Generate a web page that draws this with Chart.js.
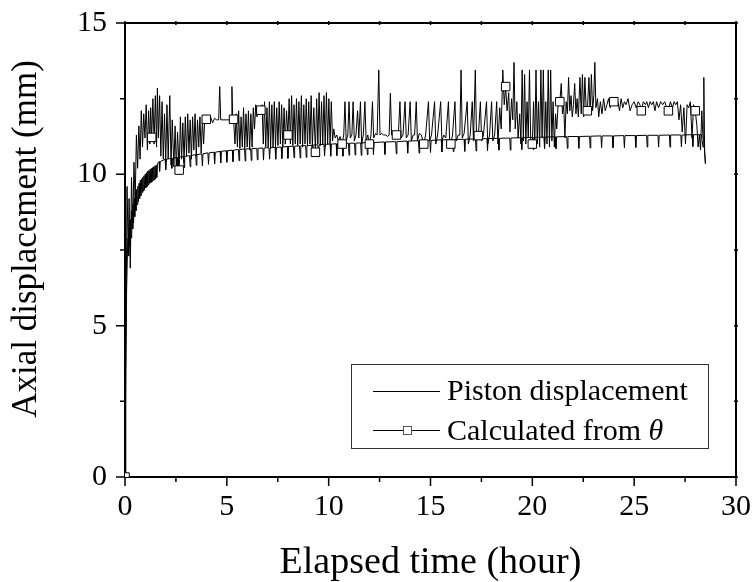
<!DOCTYPE html>
<html>
<head>
<meta charset="utf-8">
<script src="https://cdn.jsdelivr.net/npm/chart.js@4.4.0/dist/chart.umd.min.js"></script>
<style>
  html, body { margin: 0; padding: 0; background: #fff; }
  #chart { display: block; }
</style>
</head>
<body>
<canvas id="chart" width="754" height="582"></canvas>
<script>
// values (time in hours, displacement in mm)
const xMajorTicks = [0, 5, 10, 15, 20, 25, 30];
const yMajorTicks = [0, 5, 10, 15];

// piston displacement: steep rise and the dense band at the start
const pistonRise = [
  [0, 0], [0.04, 3.5], [0.08, 6.2], [0.12, 7.4], [0.15, 7.9],
  [0.18, 7.3], [0.21, 8.2], [0.24, 7.6], [0.27, 8.5], [0.30, 7.9], [0.33, 8.8], [0.36, 8.2], [0.39, 9.0],
  [0.42, 8.4], [0.45, 9.2], [0.48, 8.6], [0.51, 9.4], [0.54, 8.8], [0.57, 9.5], [0.60, 9.0], [0.63, 9.6],
  [0.66, 9.1], [0.69, 9.7], [0.72, 9.2], [0.75, 9.8], [0.78, 9.3], [0.81, 9.85], [0.84, 9.4], [0.87, 9.9],
  [0.90, 9.45], [0.93, 9.95], [0.96, 9.5], [0.99, 10.0], [1.02, 9.55], [1.05, 10.05], [1.08, 9.6], [1.11, 10.1],
  [1.14, 9.65], [1.17, 10.13], [1.20, 9.7], [1.23, 10.16], [1.26, 9.72], [1.29, 10.19], [1.32, 9.75], [1.35, 10.22],
  [1.38, 9.8], [1.41, 10.25], [1.44, 9.82], [1.47, 10.28], [1.50, 9.85], [1.53, 10.3], [1.56, 9.9], [1.59, 10.35]
];
// piston displacement: periodic drops after the first hour and a half
const dipTimes = [
  1.7, 2.0, 2.3, 2.6, 2.9, 3.2, 3.5, 3.8, 4.1, 4.4, 4.7, 5.0, 5.3, 5.6, 5.9, 6.2, 6.5, 6.8, 7.1, 7.4,
  7.7, 8.0, 8.3, 8.6, 8.9, 9.2, 9.5, 9.8, 10.1, 10.4, 10.7, 11.0, 11.3, 11.6, 11.9,
  12.2, 12.76, 13.32, 13.88, 14.44, 15.0, 15.56, 16.12, 16.68, 17.24, 17.8, 18.36, 18.92, 19.48, 20.04,
  20.6, 21.16, 21.72, 22.28, 22.84, 23.4, 23.96, 24.52, 25.08, 25.64, 26.2, 26.76, 27.32, 27.88
];
const dipTop = [
  10.42, 10.5, 10.53, 10.56, 10.59, 10.62, 10.65, 10.68, 10.71, 10.73, 10.76, 10.78, 10.8, 10.82, 10.84, 10.85, 10.86, 10.87, 10.88, 10.89,
  10.9, 10.92, 10.93, 10.94, 10.95, 10.96, 10.98, 10.99, 11.0, 11.01, 11.02, 11.03, 11.03, 11.04, 11.05,
  11.05, 11.07, 11.08, 11.1, 11.11, 11.12, 11.14, 11.15, 11.16, 11.17, 11.18, 11.19, 11.2, 11.21, 11.22,
  11.23, 11.24, 11.25, 11.25, 11.26, 11.27, 11.27, 11.28, 11.28, 11.29, 11.29, 11.3, 11.3, 11.31
];
const dipBottom = [
  10.1, 10.15, 10.2, 10.18, 10.22, 10.25, 10.3, 10.28, 10.33, 10.35, 10.38, 10.4, 10.42, 10.45, 10.44, 10.46, 10.48, 10.47, 10.5, 10.5,
  10.52, 10.53, 10.55, 10.54, 10.56, 10.58, 10.57, 10.6, 10.6, 10.62, 10.6, 10.63, 10.64, 10.63, 10.65,
  10.65, 10.66, 10.68, 10.7, 10.7, 10.72, 10.74, 10.75, 10.76, 10.77, 10.78, 10.8, 10.8, 10.82, 10.82,
  10.84, 10.85, 10.86, 10.86, 10.87, 10.88, 10.88, 10.88, 10.89, 10.9, 10.9, 10.9, 10.91, 10.92
];
const pistonTail = [[28.3, 11.31], [28.38, 10.9], [28.42, 11.2], [28.5, 10.35]];

// calculated from theta
const thetaFirstHalf = [
  [0, 0], [0.05, 4.8], [0.1, 9.6], [0.16, 7.4], [0.2, 9.2], [0.26, 6.9], [0.32, 9.9], [0.38, 8.2], [0.44, 10.4], [0.5, 9.1],
  [0.56, 11.3], [0.62, 10.2], [0.68, 11.6], [0.74, 10.5], [0.8, 12.1], [0.86, 10.9], [0.92, 12.0], [0.98, 11.2], [1.04, 12.3],
  [1.1, 10.8], [1.16, 12.1], [1.22, 11.0], [1.26, 12.2], [1.31, 11.22],
  [1.37, 12.5], [1.43, 11.0], [1.49, 12.6], [1.55, 10.9], [1.59, 12.85], [1.64, 11.2], [1.7, 12.6], [1.76, 10.6], [1.82, 12.4],
  [1.88, 10.5], [1.94, 12.0], [2.0, 10.4], [2.06, 12.3], [2.12, 10.5], [2.2, 12.6], [2.26, 10.3], [2.32, 11.8], [2.4, 10.25],
  [2.46, 11.6], [2.52, 10.2], [2.58, 11.4], [2.66, 10.14],
  [2.72, 11.9], [2.78, 10.5], [2.84, 11.7], [2.9, 10.4], [2.96, 11.9], [3.02, 10.6], [3.08, 12.0], [3.14, 10.7], [3.2, 11.8],
  [3.26, 10.5], [3.32, 11.9], [3.38, 10.8], [3.44, 12.0], [3.5, 10.6], [3.56, 11.8], [3.62, 10.9], [3.68, 11.9], [3.74, 10.7],
  [3.8, 11.8], [3.86, 11.0], [3.92, 11.9], [3.99, 11.82],
  [4.1, 11.75], [4.2, 11.9], [4.3, 11.7], [4.4, 11.85], [4.5, 11.8], [4.6, 11.8], [4.65, 12.9], [4.7, 11.8], [4.85, 11.8],
  [5.0, 11.8], [5.15, 11.8], [5.22, 11.8], [5.25, 12.9], [5.29, 11.8], [5.33, 11.82],
  [5.4, 11.0], [5.46, 12.0], [5.52, 10.9], [5.58, 12.1], [5.64, 10.85], [5.7, 11.9], [5.76, 10.9], [5.82, 12.2], [5.88, 10.85],
  [5.94, 12.0], [6.0, 10.9], [6.06, 12.1], [6.12, 10.8], [6.18, 12.0], [6.24, 10.9], [6.3, 12.2], [6.36, 11.5], [6.42, 12.3],
  [6.48, 11.9], [6.54, 12.2], [6.6, 12.0], [6.67, 12.12],
  [6.73, 12.3], [6.79, 11.0], [6.85, 12.4], [6.91, 10.9], [6.97, 12.2], [7.03, 10.9], [7.09, 12.4], [7.15, 10.85], [7.21, 12.3],
  [7.27, 10.9], [7.33, 12.4], [7.39, 10.9], [7.45, 12.2], [7.51, 10.95], [7.57, 12.4], [7.63, 11.0], [7.69, 12.3], [7.75, 10.9],
  [7.81, 12.2], [7.87, 11.0], [7.93, 12.1], [8.0, 11.3],
  [8.06, 12.5], [8.12, 11.0], [8.18, 12.6], [8.24, 10.95], [8.3, 12.3], [8.36, 11.0], [8.42, 12.5], [8.48, 10.95], [8.54, 12.4],
  [8.6, 11.0], [8.66, 12.6], [8.72, 10.9], [8.78, 12.3], [8.84, 11.0], [8.9, 12.5], [8.96, 10.95], [9.02, 12.4], [9.08, 11.0],
  [9.14, 12.6], [9.2, 10.9], [9.27, 12.2], [9.35, 10.73],
  [9.41, 12.5], [9.47, 11.0], [9.53, 12.7], [9.59, 10.95], [9.65, 12.4], [9.71, 11.0], [9.77, 12.6], [9.83, 10.9], [9.89, 12.7],
  [9.95, 11.0], [10.01, 12.5], [10.07, 11.0], [10.13, 12.4], [10.19, 11.1], [10.25, 11.5], [10.32, 11.2], [10.4, 11.3],
  [10.48, 11.1], [10.56, 11.25], [10.66, 11.0],
  [10.74, 11.3], [10.8, 12.4], [10.86, 11.1], [10.94, 11.3], [11.0, 12.4], [11.06, 11.2], [11.14, 11.3], [11.2, 12.4],
  [11.26, 11.1], [11.34, 11.3], [11.42, 12.1], [11.48, 11.2], [11.56, 12.4], [11.62, 11.0], [11.7, 11.3], [11.78, 12.4],
  [11.84, 11.1], [11.92, 11.3], [12.0, 11.0],
  [12.08, 11.3], [12.15, 12.4], [12.21, 11.2], [12.3, 11.35], [12.38, 11.3], [12.46, 13.45], [12.52, 11.3], [12.6, 11.35],
  [12.7, 11.3], [12.8, 11.3], [12.9, 11.25], [12.97, 11.3], [13.03, 12.68], [13.09, 11.3], [13.18, 11.35], [13.26, 11.3], [13.33, 11.3],
  [13.42, 11.3], [13.5, 12.4], [13.56, 11.2], [13.65, 11.3], [13.75, 12.4], [13.81, 11.2], [13.9, 11.3], [14.0, 12.4],
  [14.06, 11.1], [14.15, 11.3], [14.22, 11.3], [14.3, 12.4], [14.36, 11.1], [14.45, 11.35], [14.55, 11.3], [14.67, 11.0]
];
const thetaSecondHalf = [
  [14.76, 11.3], [14.9, 12.4], [14.96, 11.1], [15.05, 11.3], [15.2, 12.4], [15.26, 11.0], [15.35, 11.3], [15.5, 12.4],
  [15.56, 11.1], [15.65, 11.3], [15.75, 11.2], [15.88, 12.4], [15.94, 11.1], [16.0, 11.0],
  [16.08, 11.3], [16.2, 12.4], [16.26, 11.1], [16.36, 11.3], [16.44, 11.3], [16.5, 13.45], [16.56, 11.2], [16.65, 11.35],
  [16.8, 12.4], [16.86, 11.0], [16.95, 11.3], [17.05, 12.4], [17.11, 11.1], [17.2, 13.45], [17.26, 11.2], [17.35, 11.28],
  [17.45, 12.4], [17.51, 11.1], [17.6, 11.3], [17.75, 12.4], [17.81, 11.0], [17.9, 11.3], [18.0, 12.4], [18.06, 11.1],
  [18.15, 11.3], [18.25, 12.4], [18.31, 11.0], [18.4, 12.2], [18.47, 11.5], [18.55, 13.45], [18.62, 12.3], [18.69, 12.9],
  [18.76, 12.1], [18.84, 12.7], [18.9, 11.4], [18.98, 12.5], [19.04, 11.8], [19.1, 13.7], [19.16, 11.5], [19.24, 12.4],
  [19.3, 11.2], [19.38, 12.0], [19.44, 11.0], [19.5, 13.45], [19.56, 11.1], [19.62, 13.3], [19.68, 11.0], [19.74, 12.4],
  [19.8, 11.2], [19.86, 13.45], [19.92, 11.1], [20.0, 11.0],
  [20.06, 12.4], [20.12, 10.9], [20.18, 13.45], [20.24, 11.0], [20.3, 12.4], [20.36, 10.9], [20.42, 13.45], [20.48, 11.2],
  [20.54, 13.45], [20.6, 10.9], [20.66, 12.4], [20.72, 11.0], [20.78, 13.45], [20.84, 10.9], [20.9, 13.45], [20.96, 11.1],
  [21.02, 12.4], [21.08, 10.9], [21.14, 12.0], [21.2, 11.5], [21.28, 12.5], [21.35, 12.4],
  [21.42, 13.0], [21.48, 12.0], [21.54, 12.3], [21.6, 11.2], [21.66, 12.4], [21.72, 12.0], [21.78, 13.2], [21.84, 12.1],
  [21.9, 12.6], [21.96, 11.9], [22.02, 12.3], [22.08, 13.0], [22.14, 12.0], [22.2, 12.5], [22.26, 11.9], [22.34, 13.2],
  [22.4, 12.0], [22.46, 13.3], [22.52, 11.9], [22.58, 13.2], [22.64, 12.2], [22.7, 12.1],
  [22.78, 13.2], [22.84, 12.0], [22.9, 13.3], [22.96, 12.1], [23.02, 12.6], [23.07, 13.7], [23.12, 12.2], [23.2, 12.5],
  [23.26, 11.9], [23.34, 12.4], [23.42, 12.0], [23.5, 12.5], [23.58, 12.1], [23.66, 12.3], [23.74, 12.5], [23.82, 12.2],
  [23.9, 12.4], [24.0, 12.4],
  [24.1, 12.3], [24.2, 12.4], [24.28, 12.1], [24.36, 12.5], [24.44, 12.2], [24.52, 12.4], [24.6, 12.3], [24.7, 12.5],
  [24.8, 12.1], [24.9, 12.3], [25.0, 12.4], [25.1, 12.2], [25.2, 12.4], [25.28, 12.3], [25.35, 12.1],
  [25.45, 12.4], [25.55, 12.3], [25.62, 12.4], [25.7, 12.2], [25.78, 12.4], [25.86, 12.3], [25.94, 12.4], [26.02, 12.1],
  [26.1, 12.4], [26.2, 12.2], [26.3, 12.4], [26.4, 12.3], [26.5, 12.4], [26.6, 12.2], [26.68, 12.1],
  [26.78, 12.4], [26.88, 12.2], [26.96, 12.4], [27.04, 12.3], [27.12, 12.4], [27.2, 11.8], [27.28, 12.3], [27.36, 11.4],
  [27.44, 12.2], [27.52, 11.0], [27.6, 12.3], [27.68, 12.2], [27.76, 12.4], [27.84, 11.2], [27.92, 12.3], [28.0, 12.1],
  [28.08, 11.6], [28.14, 10.9], [28.2, 11.3], [28.26, 10.8], [28.32, 12.1], [28.38, 11.2], [28.42, 13.2], [28.46, 10.7], [28.5, 10.35]
];
// times where the theta curve carries a square marker
const thetaMarkerTimes = [0, 1.31, 2.66, 3.99, 5.33, 6.67, 8.0, 9.35, 10.66, 12.0, 13.33, 14.67, 16.0,
  17.35, 18.69, 20.0, 21.35, 22.7, 24.0, 25.35, 26.68, 28.0];

const FONT = '"Liberation Serif", "Times New Roman", Times, serif';

const toXY = pts => pts.map(([x, y]) => ({ x, y }));

const pistonData = toXY(pistonRise);
dipTimes.forEach((t, i) => {
    pistonData.push({ x: t - 0.03, y: dipTop[i] });
    pistonData.push({ x: t, y: dipBottom[i] });
    pistonData.push({ x: t + 0.03, y: dipTop[i] });
});
pistonData.push(...toXY(pistonTail));

const thetaData = toXY(thetaFirstHalf.concat(thetaSecondHalf));

// frame on top/right, tick marks on all sides, y title and the boxed legend
const frameAndLegend = {
    id: 'frameAndLegend',
    afterDraw(chart) {
        const { ctx, chartArea: a, scales: { x, y } } = chart;
        ctx.save();
        ctx.strokeStyle = '#000';
        ctx.lineWidth = 2;
        ctx.beginPath();
        ctx.moveTo(a.left, a.top);
        ctx.lineTo(a.right, a.top);
        ctx.lineTo(a.right, a.bottom);
        ctx.stroke();

        ctx.lineWidth = 1.5;
        x.ticks.forEach(t => {
            const px = x.getPixelForValue(t.value);
            const len = xMajorTicks.includes(t.value) ? 9 : 5;
            ctx.beginPath();
            ctx.moveTo(px, a.bottom);
            ctx.lineTo(px, a.bottom + len);
            ctx.moveTo(px, a.top - 2);
            ctx.lineTo(px, a.top + 2);
            ctx.stroke();
        });
        y.ticks.forEach(t => {
            const py = y.getPixelForValue(t.value);
            const len = yMajorTicks.includes(t.value) ? 9 : 5;
            ctx.beginPath();
            ctx.moveTo(a.left, py);
            ctx.lineTo(a.left - len, py);
            ctx.moveTo(a.right - 2, py);
            ctx.lineTo(a.right + 2, py);
            ctx.stroke();
        });

        // y axis title
        ctx.save();
        ctx.translate(27, 239);
        ctx.rotate(-Math.PI / 2);
        ctx.fillStyle = '#000';
        ctx.font = '35px ' + FONT;
        ctx.textAlign = 'center';
        ctx.textBaseline = 'middle';
        ctx.fillText('Axial displacement (mm)', 0, 0);
        ctx.restore();

        // legend
        ctx.lineWidth = 1;
        ctx.strokeStyle = '#333';
        ctx.strokeRect(351.5, 364.5, 357, 84);
        ctx.strokeStyle = '#000';
        ctx.beginPath();
        ctx.moveTo(373, 391.5);
        ctx.lineTo(440, 391.5);
        ctx.moveTo(373, 430.5);
        ctx.lineTo(440, 430.5);
        ctx.stroke();
        ctx.fillStyle = '#fff';
        ctx.fillRect(403.5, 426.5, 8, 8);
        ctx.strokeStyle = '#555';
        ctx.strokeRect(403.5, 426.5, 8, 8);

        ctx.fillStyle = '#000';
        ctx.textBaseline = 'alphabetic';
        ctx.textAlign = 'left';
        ctx.font = '30px ' + FONT;
        ctx.fillText('Piston displacement', 447, 400);
        const lead = 'Calculated from ';
        ctx.fillText(lead, 447, 440);
        const w = ctx.measureText(lead).width;
        ctx.font = 'italic 30px ' + FONT;
        ctx.fillText('\u03b8', 447 + w, 440);
        ctx.restore();
    }
};

const tickFont = { family: FONT, size: 30 };

new Chart(document.getElementById('chart'), {
    type: 'line',
    data: {
        datasets: [
            {
                label: 'Calculated from \u03b8',
                data: thetaData,
                borderColor: '#000',
                borderWidth: 1,
                pointStyle: 'rect',
                pointRadius: c => (c.raw && thetaMarkerTimes.includes(c.raw.x)) ? 6 : 0,
                pointBackgroundColor: '#fff',
                pointBorderColor: '#000',
                pointBorderWidth: 1,
                tension: 0
            },
            {
                label: 'Piston displacement',
                data: pistonData,
                borderColor: '#000',
                borderWidth: 1,
                pointRadius: 0,
                tension: 0
            }
        ]
    },
    options: {
        responsive: false,
        animation: false,
        events: [],
        layout: { padding: { top: 23, right: 18, left: 0, bottom: 0 } },
        plugins: {
            legend: { display: false },
            tooltip: { enabled: false }
        },
        scales: {
            x: {
                type: 'linear',
                min: 0,
                max: 30,
                grid: { display: false },
                border: { display: true, color: '#000', width: 2 },
                ticks: {
                    stepSize: 2.5,
                    autoSkip: false,
                    maxRotation: 0,
                    padding: 4,
                    color: '#000',
                    font: tickFont,
                    callback: v => xMajorTicks.includes(v) ? String(v) : ''
                },
                title: {
                    display: true,
                    text: 'Elapsed time (hour)',
                    color: '#000',
                    font: { family: FONT, size: 38, lineHeight: 1 },
                    padding: { top: 0, bottom: 0 }
                },
                afterFit(s) {
                    s.height = 105;
                    s.paddingLeft = 0;
                    s.paddingRight = 0;
                }
            },
            y: {
                type: 'linear',
                min: 0,
                max: 15,
                grid: { display: false },
                border: { display: true, color: '#000', width: 2 },
                ticks: {
                    stepSize: 2.5,
                    autoSkip: false,
                    padding: 10,
                    color: '#000',
                    font: tickFont,
                    callback: v => yMajorTicks.includes(v) ? String(v) : ''
                },
                afterFit(s) {
                    s.width = 125;
                    s.paddingTop = 0;
                    s.paddingBottom = 0;
                }
            }
        }
    },
    plugins: [frameAndLegend]
});
</script>
</body>
</html>
